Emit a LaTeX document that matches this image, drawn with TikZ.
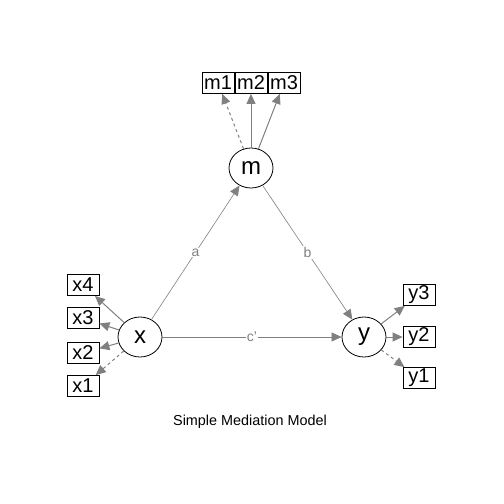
\documentclass[tikz,border=0pt]{standalone}
\usepackage{fontspec}
\setmainfont{Liberation Sans}
\usetikzlibrary{arrows.meta, shapes.geometric}
\definecolor{semcinza}{RGB}{128,128,128}

\begin{document}
\begin{tikzpicture}[x=1pt, y=-1pt,
    latente/.style={draw, ellipse, line width=0.8pt, minimum width=44pt,
      minimum height=40pt, inner sep=0pt, font=\fontsize{24}{24}\selectfont},
    manifesta/.style={draw, rectangle, line width=0.8pt, minimum width=32pt,
      minimum height=21pt, inner sep=1pt, font=\fontsize{20}{20}\selectfont},
    carga/.style={draw=semcinza, line width=1pt,
      -{Triangle[length=10pt, width=9pt, fill=semcinza]}},
    caminho/.style={draw=semcinza, line width=0.6pt,
      -{Triangle[length=10pt, width=9pt, fill=semcinza]}},
    rotulo/.style={fill=white, text=semcinza, inner sep=1pt,
      font=\fontsize{14}{14}\selectfont}]
  \useasboundingbox (0,0) rectangle (504,504);
  % Variaveis latentes
  \node[latente] (m) at (251,168) {m};
  \node[latente] (x) at (140,337) {x};
  \node[latente] (y) at (364,337) {y};
  % Indicadores
  \node[manifesta] (m1) at (218,83) {m1};
  \node[manifesta] (m2) at (251,83) {m2};
  \node[manifesta] (m3) at (284,83) {m3};
  \node[manifesta] (x4) at (83,285) {x4};
  \node[manifesta] (x3) at (83,318) {x3};
  \node[manifesta] (x2) at (83,353) {x2};
  \node[manifesta] (x1) at (83,386) {x1};
  \node[manifesta] (y3) at (419,295) {y3};
  \node[manifesta] (y2) at (419,337) {y2};
  \node[manifesta] (y1) at (419,378) {y1};
  % Cargas fatoriais
  \draw[carga, dashed] (m) -- (m1);
  \draw[carga] (m) -- (m2);
  \draw[carga] (m) -- (m3);
  \draw[carga, dashed] (x) -- (x1);
  \draw[carga] (x) -- (x2);
  \draw[carga] (x) -- (x3);
  \draw[carga] (x) -- (x4);
  \draw[carga, dashed] (y) -- (y1);
  \draw[carga] (y) -- (y2);
  \draw[carga] (y) -- (y3);
  % Caminhos estruturais
  \draw[caminho] (x) -- node[rotulo] (la) {a} (m);
  \draw[caminho] (m) -- node[rotulo] (lb) {b} (y);
  \draw[caminho] (x) -- node[rotulo] (lc) {c'} (y);
  % Titulo
  \node[font=\fontsize{14.4}{14.4}\selectfont] (titulo) at (250,422)
    {Simple Mediation Model};
\end{tikzpicture}
\end{document}
